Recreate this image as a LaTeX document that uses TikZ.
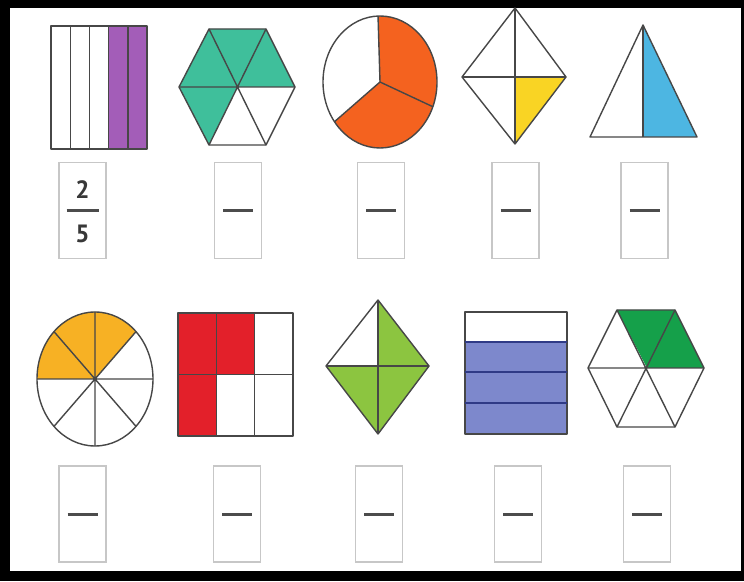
\documentclass[tikz,border=0pt]{standalone}
\usepackage{fontspec}
\setmainfont{PT Sans}
\usetikzlibrary{arrows.meta}

\definecolor{morado}{HTML}{A35DB8}
\definecolor{turquesa}{HTML}{3FBF9B}
\definecolor{naranja}{HTML}{F4621F}
\definecolor{amarillo}{HTML}{F9D424}
\definecolor{celeste}{HTML}{4DB6E2}
\definecolor{ambar}{HTML}{F7B124}
\definecolor{rojo}{HTML}{E3202A}
\definecolor{verde}{HTML}{8CC540}
\definecolor{lavanda}{HTML}{7D88CC}
\definecolor{verdeosc}{HTML}{15A04A}
\definecolor{marino}{HTML}{2F3A86}

\begin{document}
\begin{tikzpicture}[
        x=1pt, y=1pt,
        contorno/.style={draw=black!72, line width=1.4pt, line join=round},
        franja/.style={draw=marino, line width=2pt},
        casilla/.style={draw=black!22, line width=1.3pt, minimum width=47pt, minimum height=96pt, inner sep=0pt},
        raya/.style={draw=black!70, line width=3pt},
        cifra/.style={font=\fontsize{25}{27}\selectfont\bfseries, text=black!78, inner sep=0pt}
    ]
        % marco
        \fill[black] (0,0) rectangle (744,581);
        \fill[white] (10,10) rectangle (741,573);

        % fila de arriba
        \fill[morado] (108.6,432) rectangle (147,555);
        \draw[contorno] (51,432) rectangle (147,555);
        \draw[contorno] (70.2,432) -- (70.2,555) (89.4,432) -- (89.4,555) (108.6,432) -- (108.6,555) (127.8,432) -- (127.8,555);

        \coordinate (h1) at (237,494);
        \fill[turquesa] (h1) -- (179,494) -- (209,552) -- (266,552) -- (295,494) -- cycle;
        \fill[turquesa] (h1) -- (179,494) -- (209,436) -- cycle;
        \draw[contorno] (179,494) -- (209,552) -- (266,552) -- (295,494) -- (266,436) -- (209,436) -- cycle;
        \draw[contorno] (179,494) -- (295,494) (209,552) -- (266,436) (266,552) -- (209,436);

        \coordinate (c1) at (380,499);
        \fill[naranja] (c1) -- ++(217:57 and 66) arc[start angle=217, end angle=452, x radius=57, y radius=66] -- cycle;
        \draw[contorno] (c1) ellipse [x radius=57, y radius=66];
        \draw[contorno] (c1) -- ++(92:57 and 66) (c1) -- ++(217:57 and 66) (c1) -- ++(338:57 and 66);

        \coordinate (d1) at (515,504);
        \fill[amarillo] (d1) -- (566,504) -- (515,437) -- cycle;
        \draw[contorno] (515,573) -- (566,504) -- (515,437) -- (462,504) -- cycle;
        \draw[contorno] (515,573) -- (515,437) (462,504) -- (566,504);

        \fill[celeste] (643,556) -- (697,444) -- (643,444) -- cycle;
        \draw[contorno] (643,556) -- (697,444) -- (590,444) -- cycle;
        \draw[contorno] (643,556) -- (643,444);

        % fila de abajo
        \coordinate (c2) at (95,202);
        \fill[ambar] (c2) -- ++(45:58 and 67) arc[start angle=45, end angle=180, x radius=58, y radius=67] -- cycle;
        \draw[contorno] (c2) ellipse [x radius=58, y radius=67];
        \draw[contorno] (c2) -- ++(0:58 and 67) (c2) -- ++(45:58 and 67) (c2) -- ++(90:58 and 67) (c2) -- ++(135:58 and 67)
            (c2) -- ++(180:58 and 67) (c2) -- ++(225:58 and 67) (c2) -- ++(270:58 and 67) (c2) -- ++(315:58 and 67);

        \fill[rojo] (178,145) rectangle (216.3,268);
        \fill[rojo] (216.3,206.5) rectangle (254.7,268);
        \draw[contorno] (178,145) rectangle (293,268);
        \draw[contorno] (216.3,145) -- (216.3,268) (254.7,145) -- (254.7,268) (178,206.5) -- (293,206.5);

        \coordinate (d2) at (378,215);
        \fill[verde] (d2) -- (378,281) -- (429,215) -- (378,147) -- (326,215) -- cycle;
        \draw[contorno] (378,281) -- (429,215) -- (378,147) -- (326,215) -- cycle;
        \draw[contorno] (378,281) -- (378,147) (326,215) -- (429,215);

        \fill[lavanda] (465,147) rectangle (567,239);
        \draw[contorno] (465,147) rectangle (567,269);
        \draw[franja] (465,239) -- (567,239) (465,209) -- (567,209) (465,178) -- (567,178);

        \coordinate (h2) at (647,213);
        \fill[verdeosc] (h2) -- (617,271) -- (675,271) -- (704,213) -- cycle;
        \draw[contorno] (588,213) -- (617,271) -- (675,271) -- (704,213) -- (675,154) -- (617,154) -- cycle;
        \draw[contorno] (588,213) -- (704,213) (617,271) -- (675,154) (675,271) -- (617,154);

        % casillas
        \node[casilla] (rayas) at (82.5,370.5) {};
        \node[casilla] (hexa) at (238,370.5) {};
        \node[casilla] (circ) at (381,370.5) {};
        \node[casilla] (rombo) at (515.5,370.5) {};
        \node[casilla] (tri) at (644.5,370.5) {};
        \node[casilla] (ocho) at (82.5,67) {};
        \node[casilla] (rejilla) at (237,67) {};
        \node[casilla] (rombob) at (379,67) {};
        \node[casilla] (franjas) at (518,67) {};
        \node[casilla] (hexab) at (647,67) {};

        \node[cifra] (num) at (82.5,391) {2};
        \node[cifra] (den) at (82.5,347) {5};
        \draw[raya] ([xshift=-16pt]rayas.center) -- ([xshift=16pt]rayas.center);
        \draw[raya] ([xshift=-15pt]hexa.center) -- ([xshift=15pt]hexa.center);
        \draw[raya] ([xshift=-15pt]circ.center) -- ([xshift=15pt]circ.center);
        \draw[raya] ([xshift=-15pt]rombo.center) -- ([xshift=15pt]rombo.center);
        \draw[raya] ([xshift=-15pt]tri.center) -- ([xshift=15pt]tri.center);
        \draw[raya] ([xshift=-15pt]ocho.center) -- ([xshift=15pt]ocho.center);
        \draw[raya] ([xshift=-15pt]rejilla.center) -- ([xshift=15pt]rejilla.center);
        \draw[raya] ([xshift=-15pt]rombob.center) -- ([xshift=15pt]rombob.center);
        \draw[raya] ([xshift=-15pt]franjas.center) -- ([xshift=15pt]franjas.center);
        \draw[raya] ([xshift=-15pt]hexab.center) -- ([xshift=15pt]hexab.center);
    \end{tikzpicture}
\end{document}
